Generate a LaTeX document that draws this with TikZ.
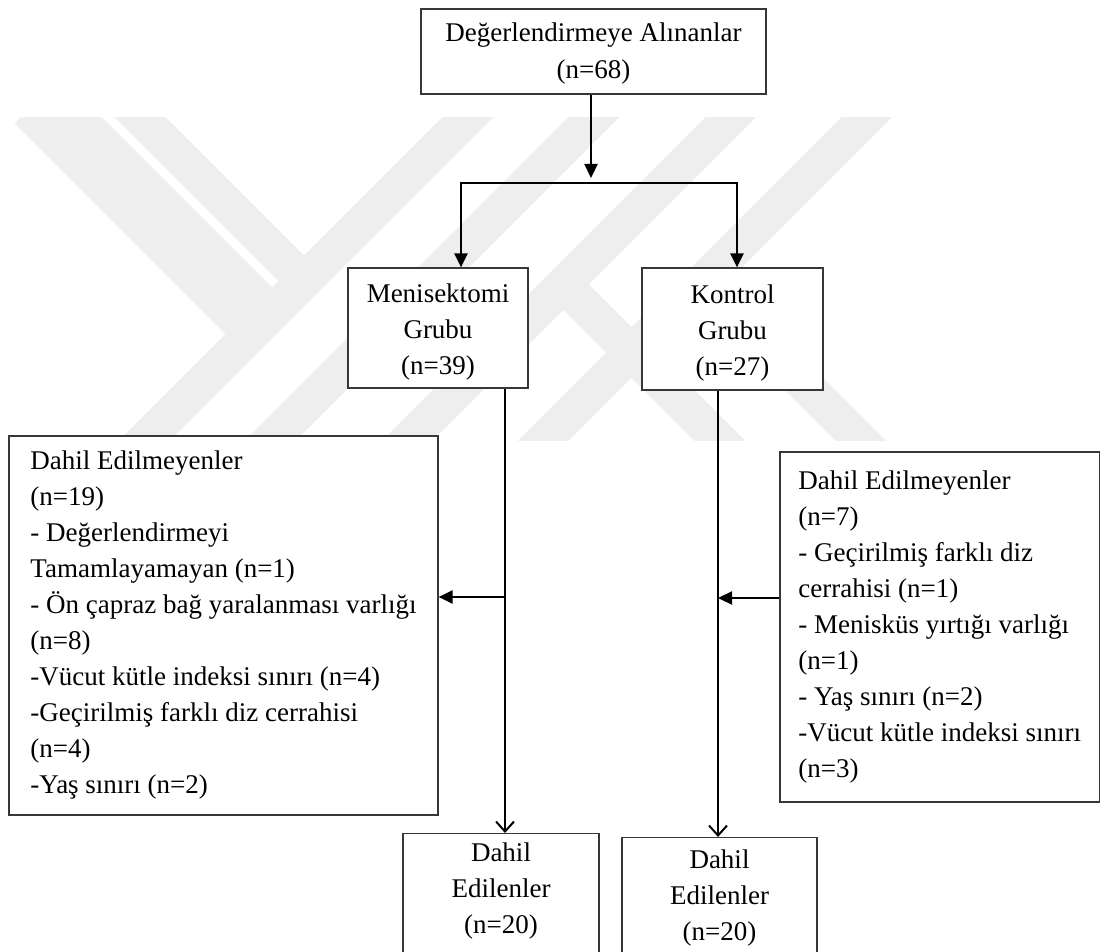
\documentclass[tikz,border=0pt]{standalone}
\usepackage{fontspec}
\setmainfont{Liberation Serif}
\usetikzlibrary{arrows.meta}
\definecolor{wm}{RGB}{238,238,238}
\definecolor{edge}{RGB}{55,55,55}
\begin{document}
\begin{tikzpicture}[x=1pt,y=-1pt,
  box/.style={draw=edge, line width=1.2pt, fill=white, inner sep=0pt, font=\fontsize{27}{36}\selectfont},
  lbox/.style={box, align=left},
  txt/.style={inner sep=0pt, align=center, font=\fontsize{27}{36}\selectfont},
  conn/.style={line width=2.3pt, black},
  tri/.style={conn, -{Triangle[length=14pt,width=13pt]}},
  barb/.style={conn, -{Straight Barb[length=10pt,width=18pt,line width=2pt]}},
  band/.style={wm, line width=36pt},
  wideband/.style={wm, line width=66pt},
]
\useasboundingbox (0,0) rectangle (1101,952);
% watermark
\begin{scope}
\clip (0,118) rectangle (1101,440);
\draw[band] (127,458) -- (485,100);
\draw[band] (253,458) -- (611,100);
\draw[band] (390,458) -- (748,100);
\draw[band] (526,458) -- (884,100);
\draw[wideband] (38,100) -- (261.5,323.5);
\draw[band] (123,100) -- (304,281);
\draw[band] (563.5,284.5) -- (737,458);
\draw[band] (702,282) -- (878,458);
\end{scope}
% boxes
\node[box, minimum width=345pt, minimum height=85pt] (top) at (593.5,51.5) {};
\node[txt, font=\fontsize{27}{37}\selectfont] (topt) at (593.5,54) {Değerlendirmeye Alınanlar\\(n=68)};
\node[box, minimum width=180pt, minimum height=120pt] (men) at (438,328) {};
\node[txt] (ment) at (438,332) {Menisektomi\\Grubu\\(n=39)};
\node[box, minimum width=181pt, minimum height=122pt] (kon) at (732.5,329) {};
\node[txt] (kont) at (732.5,333) {Kontrol\\Grubu\\(n=27)};
\node[lbox, minimum width=429pt, minimum height=379pt] (exc1) at (223.5,625.5) {Dahil Edilmeyenler\\(n=19)\\- Değerlendirmeyi\\Tamamlayamayan (n=1)\\- Ön çapraz bağ yaralanması varlığı\\(n=8)\\-Vücut kütle indeksi sınırı (n=4)\\-Geçirilmiş farklı diz cerrahisi\\(n=4)\\-Yaş sınırı (n=2)};
\node[lbox, minimum width=319.5pt, minimum height=350pt] (exc2) at (939.75,627) {Dahil Edilmeyenler\\(n=7)\\- Geçirilmiş farklı diz\\cerrahisi (n=1)\\- Menisküs yırtığı varlığı\\(n=1)\\- Yaş sınırı (n=2)\\-Vücut kütle indeksi sınırı\\(n=3)};
\node[box, minimum width=196pt, minimum height=140pt, anchor=north] (inc1) at (501,833) {};
\node[txt] (inc1t) at (501,891) {Dahil\\Edilenler\\(n=20)};
\node[box, minimum width=195pt, minimum height=140pt, anchor=north] (inc2) at (719.5,837) {};
\node[txt] (inc2t) at (719.5,898) {Dahil\\Edilenler\\(n=20)};
% connectors
\coordinate (jt) at (591,178);
\coordinate (hl) at (461,183);
\coordinate (hr) at (737,183);
\coordinate (mx) at (505,597);
\coordinate (kx) at (718,598);
\draw[tri] (top.south -| jt) -- (jt);
\draw[tri] (hr) -- (hl) -- (men.north -| hl);
\draw[tri] (hl) -- (hr) -- (kon.north -| hr);
\draw[barb] (men.south -| mx) -- (inc1.north -| mx);
\draw[tri] (mx) -- (exc1.east |- mx);
\draw[barb] (kon.south -| kx) -- (inc2.north -| kx);
\draw[tri] (exc2.west |- kx) -- (kx);
\end{tikzpicture}
\end{document}
